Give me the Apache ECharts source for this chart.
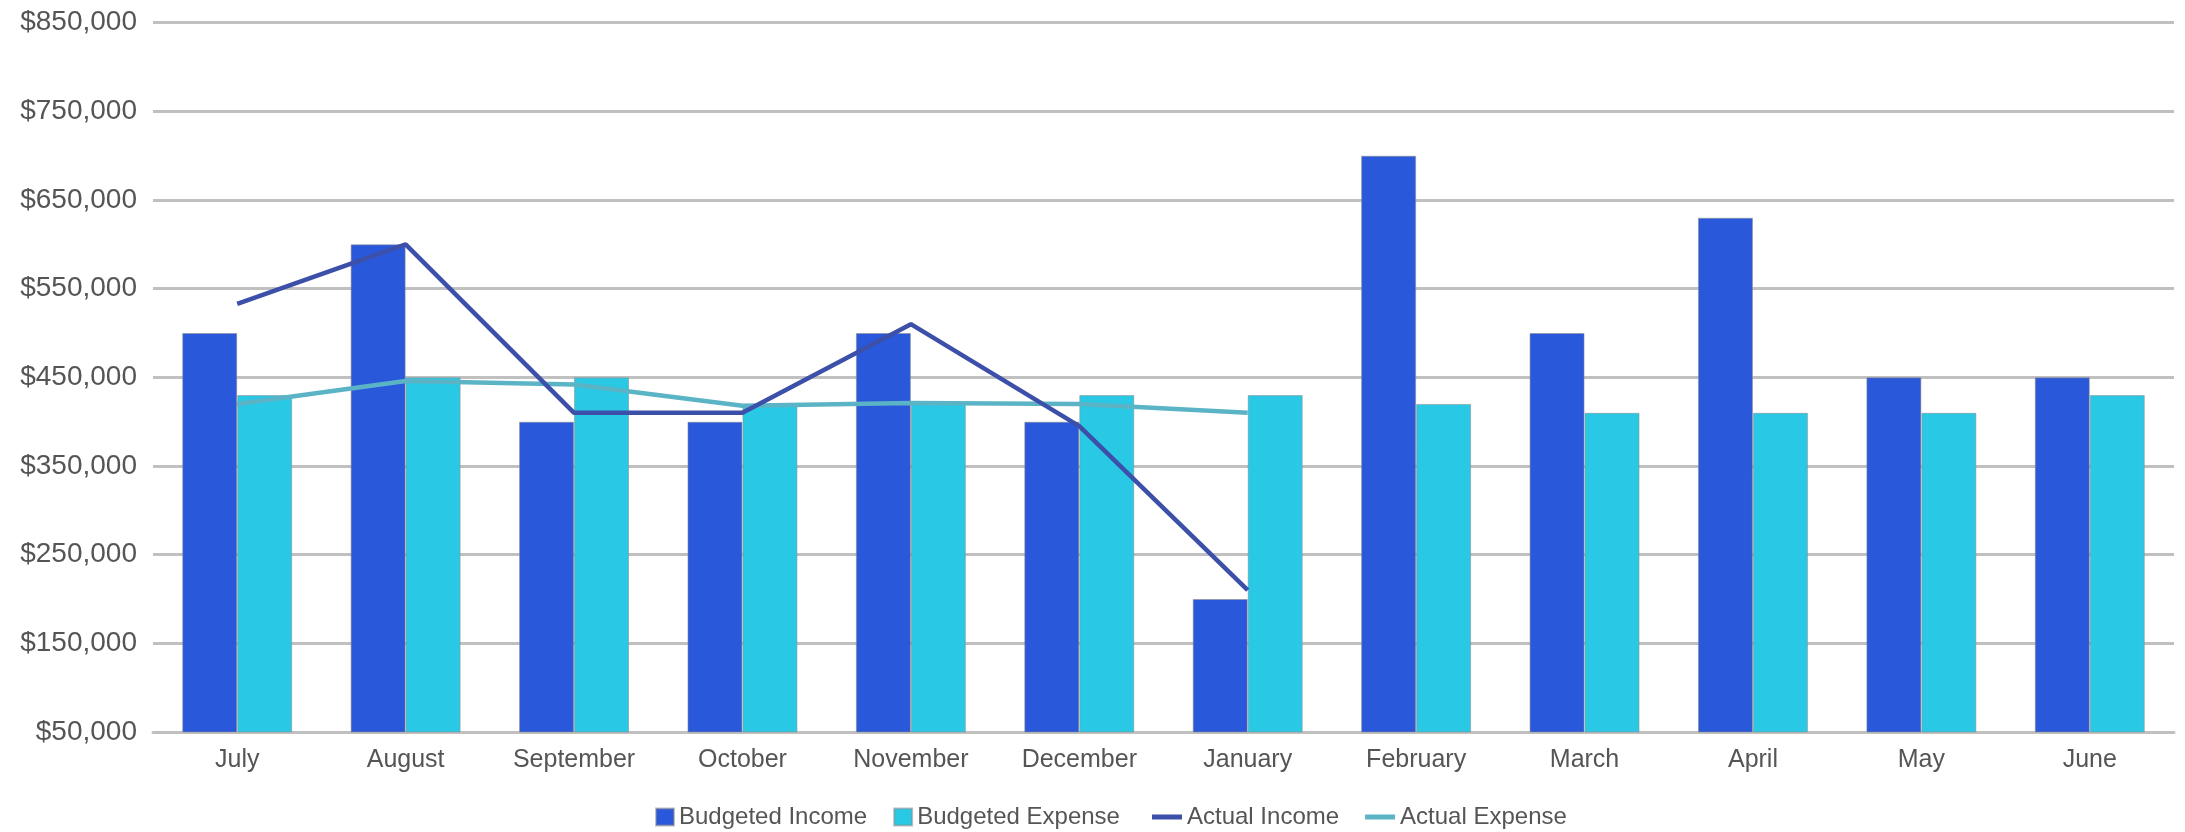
<!DOCTYPE html>
<html>
<head>
<meta charset="utf-8">
<script src="https://cdn.jsdelivr.net/npm/echarts@6/dist/echarts.min.js"></script>
<style>
html,body{margin:0;padding:0;background:#fff;}
#chart{width:2185px;height:832px;}
</style>
</head>
<body>
<div id="chart"></div>
<script>
const months = ['July','August','September','October','November','December','January','February','March','April','May','June'];
const budgetedIncome  = [500000,600000,400000,400000,500000,400000,200000,700000,500000,630000,450000,450000];
const budgetedExpense = [430000,450000,450000,420000,420000,430000,430000,420000,410000,410000,410000,430000];
const actualIncome    = [533000,600000,410000,410000,510000,395000,210000,null,null,null,null,null];
const actualExpense   = [420000,446000,442000,418000,421000,420000,410000,null,null,null,null,null];
const yTicks = {min:50000, max:850000, step:100000};

const FONT = "'Liberation Sans', Arial, sans-serif";
const C_BI = '#2A58DA', C_BE = '#29C9E6', C_AI = '#3D50A9', C_AE = '#5BB4C6';

const chart = echarts.init(document.getElementById('chart'), null, {renderer:'canvas'});
chart.setOption({
  animation:false,
  backgroundColor:'#ffffff',
  textStyle:{fontFamily:FONT},
  grid:{left:153, right:11, top:22.7, bottom:100, containLabel:false},
  legend:[{
    data:['Budgeted Income','Budgeted Expense'],
    left:655, top:805, padding:0, icon:'rect', itemWidth:18, itemHeight:17, itemGap:26,
    textStyle:{fontFamily:FONT, fontSize:24, color:'#555555'}
  },{
    data:['Actual Income','Actual Expense'],
    left:1152, top:805, padding:0, icon:'rect', itemWidth:30, itemHeight:5, itemGap:26,
    textStyle:{fontFamily:FONT, fontSize:24, color:'#555555'}
  }],
  xAxis:{
    type:'category', data:months, boundaryGap:true,
    axisLine:{show:true, lineStyle:{color:'#c0c0c0', width:3}},
    axisTick:{show:false},
    axisLabel:{fontFamily:FONT, fontSize:25, color:'#555555', margin:16, interval:0}
  },
  yAxis:{
    type:'value', min:yTicks.min, max:yTicks.max, interval:yTicks.step,
    axisLine:{show:false}, axisTick:{show:false},
    axisLabel:{fontFamily:FONT, fontSize:28, color:'#555555', margin:16,
      formatter:v => '$' + v.toLocaleString('en-US')},
    splitLine:{show:true, lineStyle:{color:'#c0c0c0', width:3}}
  },
  series:[
    {name:'Budgeted Income', type:'bar', data:budgetedIncome, barGap:'0%', barCategoryGap:'34.7%',
      itemStyle:{color:C_BI, borderColor:'rgba(140,140,140,0.55)', borderWidth:1}},
    {name:'Budgeted Expense', type:'bar', data:budgetedExpense, barGap:'0%', barCategoryGap:'34.7%',
      itemStyle:{color:C_BE, borderColor:'rgba(140,140,140,0.55)', borderWidth:1}},
    {name:'Actual Income', type:'line', data:actualIncome, showSymbol:false, symbol:'none',
      lineStyle:{color:C_AI, width:4.5}, itemStyle:{color:C_AI}, z:5},
    {name:'Actual Expense', type:'line', data:actualExpense, showSymbol:false, symbol:'none',
      lineStyle:{color:C_AE, width:4.5}, itemStyle:{color:C_AE}, z:4}
  ]
});
</script>
</body>
</html>
